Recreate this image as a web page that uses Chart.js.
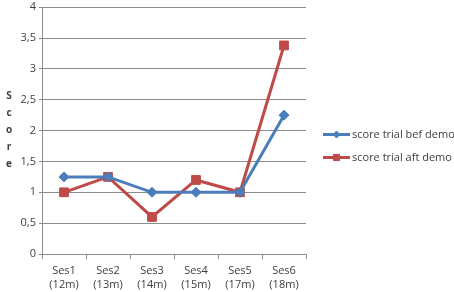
<!DOCTYPE html>
<html>
<head>
<meta charset="utf-8">
<script src="https://cdn.jsdelivr.net/npm/chart.js@4.4.0/dist/chart.umd.min.js"></script>
<style>
    html, body { margin: 0; padding: 0; background: #ffffff; }
</style>
</head>
<body>
<canvas id="scoreChart" width="454" height="292"></canvas>
<script>
const sessions = [['Ses1', '(12m)'], ['Ses2', '(13m)'], ['Ses3', '(14m)'], ['Ses4', '(15m)'], ['Ses5', '(17m)'], ['Ses6', '(18m)']];
const scoreBefore = [1.25, 1.25, 1, 1, 1, 2.25];
const scoreAfter = [1, 1.25, 0.6, 1.2, 1, 3.38];
const seriesNames = ['score trial bef demo', 'score trial aft demo'];
const axisTitle = 'Score';

const FONT = '"Open Sans", sans-serif';
const TEXT_COLOR = '#404040';
const GRID_COLOR = '#8c8c8c';

// Excel-style legend: line with marker in the middle, drawn right of the plot area
const sideLegend = {
    id: 'sideLegend',
    afterDraw(chart) {
        const ctx = chart.ctx;
        const area = chart.chartArea;
        const x0 = area.right + 17;
        const lineLen = 27;
        const midY = chart.height / 2;
        const rowGap = 23;
        chart.data.datasets.forEach((ds, i) => {
            const y = midY + (i - 0.5) * rowGap;
            ctx.save();
            ctx.strokeStyle = ds.borderColor;
            ctx.lineWidth = 3;
            ctx.beginPath();
            ctx.moveTo(x0, y);
            ctx.lineTo(x0 + lineLen, y);
            ctx.stroke();
            ctx.lineWidth = 1;
            ctx.fillStyle = ds.pointBackgroundColor;
            ctx.strokeStyle = ds.pointBorderColor;
            Chart.helpers.drawPoint(ctx, {
                pointStyle: ds.pointStyle,
                radius: ds.pointRadius * 0.7,
                borderWidth: 1
            }, x0 + lineLen / 2, y);
            ctx.fillStyle = TEXT_COLOR;
            ctx.font = '11px ' + FONT;
            ctx.textBaseline = 'middle';
            ctx.textAlign = 'left';
            ctx.fillText(ds.label, x0 + lineLen + 2, y);
            ctx.restore();
        });
    }
};

// upright stacked letters for the y axis title
const stackedTitle = {
    id: 'stackedTitle',
    afterDraw(chart) {
        const ctx = chart.ctx;
        const area = chart.chartArea;
        const letters = axisTitle.split('');
        const step = 17;
        const cy = (area.top + area.bottom) / 2;
        ctx.save();
        ctx.fillStyle = TEXT_COLOR;
        ctx.font = 'bold 10px ' + FONT;
        ctx.textAlign = 'center';
        ctx.textBaseline = 'middle';
        letters.forEach((ch, i) => {
            ctx.fillText(ch, 9, cy + (i - (letters.length - 1) / 2) * step);
        });
        ctx.restore();
    }
};

new Chart(document.getElementById('scoreChart').getContext('2d'), {
    type: 'line',
    data: {
        labels: sessions,
        datasets: [
            {
                label: seriesNames[0],
                data: scoreBefore,
                borderColor: '#4a7ebb',
                backgroundColor: '#4a7ebb',
                pointBackgroundColor: '#4a7ebb',
                pointBorderColor: '#4a7ebb',
                borderWidth: 3,
                pointStyle: 'rectRot',
                pointRadius: 5,
                pointBorderWidth: 1,
                tension: 0
            },
            {
                label: seriesNames[1],
                data: scoreAfter,
                borderColor: '#be4b48',
                backgroundColor: '#be4b48',
                pointBackgroundColor: '#be4b48',
                pointBorderColor: '#be4b48',
                borderWidth: 3,
                pointStyle: 'rect',
                pointRadius: 6.2,
                pointBorderWidth: 1,
                tension: 0
            }
        ]
    },
    options: {
        responsive: false,
        animation: false,
        layout: {
            padding: { left: 18, right: 148, top: 0, bottom: 0 }
        },
        plugins: {
            legend: { display: false },
            tooltip: { enabled: false }
        },
        scales: {
            x: {
                offset: true,
                afterFit(scale) { scale.height = 38; },
                grid: {
                    offset: true,
                    drawOnChartArea: false,
                    drawTicks: true,
                    tickLength: 5,
                    color: GRID_COLOR
                },
                border: { color: GRID_COLOR, width: 1 },
                ticks: {
                    color: TEXT_COLOR,
                    padding: 4,
                    maxRotation: 0,
                    autoSkip: false,
                    font: { family: FONT, size: 11, lineHeight: 1.35 }
                }
            },
            y: {
                min: 0,
                max: 4,
                afterFit(scale) {
                    scale.width = 24;
                    scale.paddingTop = 4; // top gridline sits close to the edge like the original
                },
                grid: {
                    color: GRID_COLOR,
                    tickLength: 3
                },
                border: { color: GRID_COLOR, width: 1 },
                ticks: {
                    stepSize: 0.5,
                    color: TEXT_COLOR,
                    padding: 3,
                    font: { family: FONT, size: 11 },
                    callback: (v) => String(v).replace('.', ',')
                }
            }
        }
    },
    plugins: [sideLegend, stackedTitle]
});
</script>
</body>
</html>
